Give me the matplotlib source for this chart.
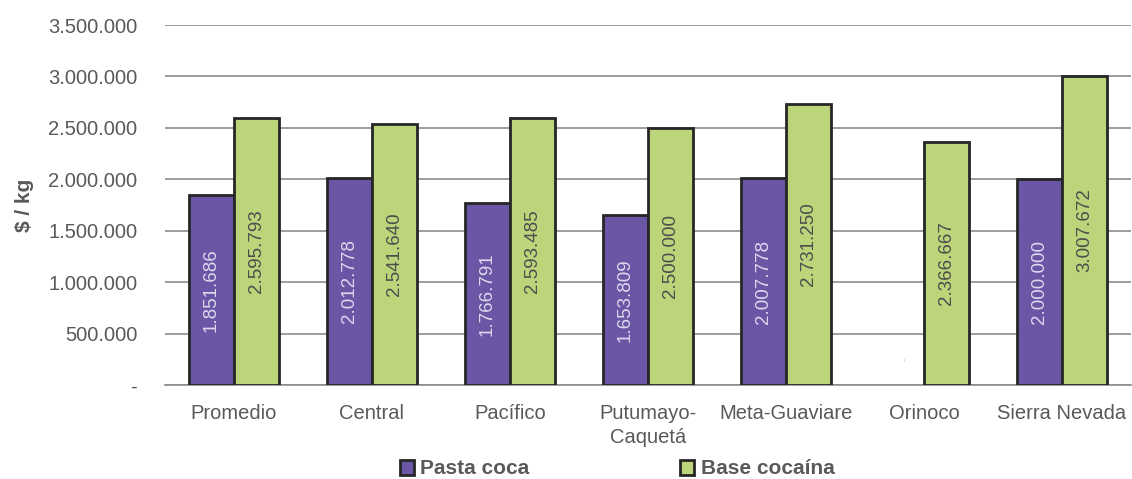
import matplotlib.pyplot as plt
from matplotlib.ticker import FuncFormatter
import numpy as np

plt.rcParams['font.family'] = ['Liberation Sans', 'DejaVu Sans']

# datos
regiones = ['Promedio', 'Central', 'Pacífico', 'Putumayo-\nCaquetá', 'Meta-Guaviare', 'Orinoco', 'Sierra Nevada']
pasta_coca = [1851686, 2012778, 1766791, 1653809, 2007778, 0, 2000000]
base_cocaina = [2595793, 2541640, 2593485, 2500000, 2731250, 2366667, 3007672]

c_pasta = '#6b55a5'
c_base = '#bcd47a'
gris = '#595959'

def fmt(v, pos=None):
    if v == 0:
        return '-'
    return '{:,.0f}'.format(v).replace(',', '.')

fig = plt.figure(figsize=(11.32, 4.79), dpi=100)
ax = fig.add_axes([165 / 1132, 1 - 385 / 479, 966 / 1132, 360 / 479])

x = np.arange(len(regiones))
w = 0.326
b1 = ax.bar(x - w / 2, pasta_coca, w, color=c_pasta, edgecolor='#262626', linewidth=2, label='Pasta coca', zorder=3)
b2 = ax.bar(x + w / 2, base_cocaina, w, color=c_base, edgecolor='#262626', linewidth=2, label='Base cocaína', zorder=3)

# etiquetas de datos
for i in range(len(regiones)):
    if pasta_coca[i] > 0:
        ax.text(x[i] - w / 2, pasta_coca[i] / 2, fmt(pasta_coca[i]), rotation=90, ha='center', va='center',
                color='#ddd8ee', fontsize=13.5, zorder=4)
    else:
        b1[i].set_visible(False)
        ax.text(x[i] - w / 2 + 0.02, 250000, '-', rotation=90, ha='center', va='center',
                color='#cccccc', fontsize=8, zorder=4)
    ax.text(x[i] + w / 2, base_cocaina[i] / 2, fmt(base_cocaina[i]), rotation=90, ha='center', va='center',
            color='#4d4d4d', fontsize=13.5, zorder=4)

ax.set_xlim(-0.5, len(regiones) - 0.5)
ax.set_ylim(0, 3500000)
ax.set_yticks(np.arange(0, 3500001, 500000))
ax.yaxis.set_major_formatter(FuncFormatter(fmt))
ax.grid(axis='y', color='#8c8c8c', linewidth=1.2, zorder=0)
ax.set_xticks(x)
ax.set_xticklabels(regiones, fontsize=14.5, color=gris, linespacing=1.3)
ax.tick_params(axis='both', length=0, colors=gris)
ax.tick_params(axis='y', pad=20, labelsize=14.5)
ax.tick_params(axis='x', pad=14)
for s in ['top', 'right', 'left']:
    ax.spines[s].set_visible(False)
ax.spines['bottom'].set_color('#8c8c8c')
ax.spines['bottom'].set_linewidth(1.2)

ax.set_ylabel('$ / kg', fontsize=15, fontweight='bold', color=gris, labelpad=10)

leg = fig.legend(handles=[b1, b2], loc='center', bbox_to_anchor=(617 / 1132, 1 - 469 / 479), ncol=2,
                 frameon=False, fontsize=15, handlelength=0.7, handleheight=0.7, handletextpad=0.3,
                 columnspacing=7.2, borderaxespad=0)
for t in leg.get_texts():
    t.set_color(gris)
    t.set_fontweight('bold')

fig.savefig('out.png', dpi=100)
